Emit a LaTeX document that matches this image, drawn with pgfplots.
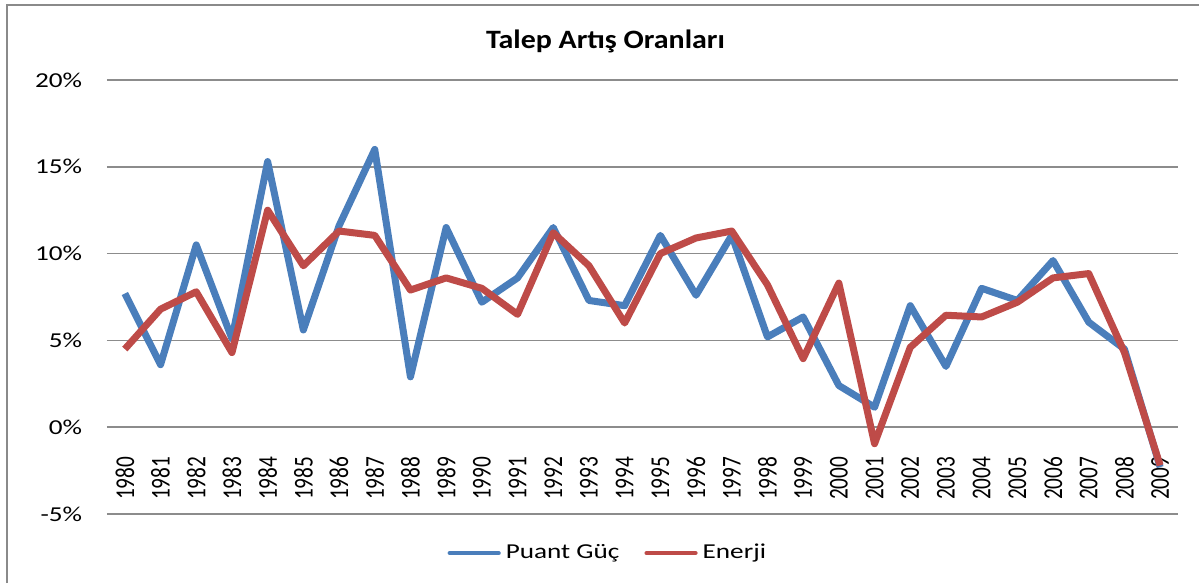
\documentclass[border=0pt]{standalone}
\usepackage{fontspec}
\setmainfont{Carlito}
\usepackage{graphicx}
\usepackage{pgfplots}
\usepackage{pgfplotstable}
\pgfplotsset{compat=1.18}
\definecolor{pblue}{HTML}{4A7EBB}
\definecolor{pred}{HTML}{BE4B48}
\definecolor{gridc}{HTML}{8C8C8C}
\definecolor{framec}{HTML}{8A8A8A}
\pgfplotstableread{
i year puant enerji
0 1980 7.7 4.5
1 1981 3.6 6.8
2 1982 10.5 7.8
3 1983 5.1 4.3
4 1984 15.3 12.5
5 1985 5.6 9.3
6 1986 11.6 11.3
7 1987 16.0 11.05
8 1988 2.9 7.9
9 1989 11.5 8.6
10 1990 7.2 8.0
11 1991 8.6 6.5
12 1992 11.5 11.2
13 1993 7.3 9.3
14 1994 7.0 6.0
15 1995 11.05 10.0
16 1996 7.6 10.9
17 1997 11.05 11.3
18 1998 5.2 8.2
19 1999 6.35 3.95
20 2000 2.4 8.3
21 2001 1.15 -0.95
22 2002 7.0 4.6
23 2003 3.5 6.45
24 2004 8.0 6.35
25 2005 7.3 7.2
26 2006 9.6 8.6
27 2007 6.05 8.85
28 2008 4.5 4.3
29 2009 -2.3 -2.2
}\data
\newcommand{\sx}[1]{\scalebox{1.28}[1]{#1}}
\newcommand{\yr}[1]{\scalebox{1}[1.28]{#1}}
\begin{document}
\begin{tikzpicture}[x=1pt,y=1pt]
\path[use as bounding box] (0,0) rectangle (479.6,233.2);
\draw[framec, line width=0.8pt] (2.8,0) -- (2.8,231.2) -- (479.6,231.2);
\node[font=\fontsize{10.6}{12}\selectfont\bfseries] at (242.2,216.6) {\scalebox{1.13}[1]{Talep Artış Oranları}};
\begin{axis}[
  at={(42.8pt,27.6pt)}, anchor=south west,
  scale only axis, width=428.4pt, height=173.6pt,
  xmin=-0.5, xmax=29.5, ymin=-5, ymax=20,
  axis line style={draw=none},
  major tick length=0pt,
  ytick={-5,0,5,10,15,20},
  yticklabels={\sx{-5\%},\sx{0\%},\sx{5\%},\sx{10\%},\sx{15\%},\sx{20\%}},
  ymajorgrids, grid style={gridc, line width=0.7pt},
  yticklabel style={font=\fontsize{8.5}{10}\selectfont, xshift=-6.4pt},
  xtick=data,
  xticklabels={\yr{1980},\yr{1981},\yr{1982},\yr{1983},\yr{1984},\yr{1985},\yr{1986},\yr{1987},\yr{1988},\yr{1989},\yr{1990},\yr{1991},\yr{1992},\yr{1993},\yr{1994},\yr{1995},\yr{1996},\yr{1997},\yr{1998},\yr{1999},\yr{2000},\yr{2001},\yr{2002},\yr{2003},\yr{2004},\yr{2005},\yr{2006},\yr{2007},\yr{2008},\yr{2009}},
  xticklabel style={font=\fontsize{8.5}{10}\selectfont, yshift=26.4pt, rotate=90, anchor=east},
  legend columns=2,
  legend style={at={(0.469,-0.09)}, anchor=center, draw=none, fill=none,
    font=\fontsize{8.5}{10}\selectfont,
    /tikz/every even column/.append style={column sep=8pt}},
  legend image code/.code={\draw[#1, line width=1.8pt, line cap=round] (0pt,0pt) -- (19.5pt,0pt);},
  clip=false,
]
\addplot[pblue, line width=2.8pt, line join=round, mark=none] table[x=i, y=puant] {\data};
\addlegendentry{\sx{Puant Güç}}
\addplot[pred, line width=2.8pt, line join=round, mark=none] table[x=i, y=enerji] {\data};
\addlegendentry{\sx{Enerji}}
\end{axis}
\end{tikzpicture}
\end{document}
